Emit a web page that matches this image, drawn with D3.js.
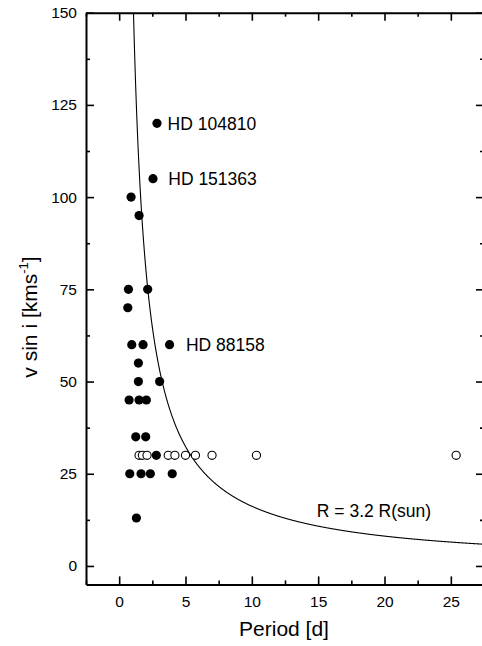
<!DOCTYPE html>
<html><head><meta charset="utf-8">
<script src="https://cdn.jsdelivr.net/npm/d3@7"></script>
<style>
body{margin:0;background:#fff}
svg{display:block}
text{font-family:"Liberation Sans",Arial,Helvetica,sans-serif;fill:#000}
</style>
</head><body>
<svg id="c" width="482" height="646"></svg>
<script>
// ---- data ----
const filledPeriod = [2.85, 2.55, 0.9, 1.5, 0.7, 2.15, 0.65, 0.95, 1.8, 3.8, 1.45, 1.45, 3.05, 0.75, 1.5, 2.05, 1.25, 2.0, 2.8, 0.8, 1.65, 2.35, 4.0, 1.3];
const filledVsini  = [120, 105, 100, 95, 75, 75, 70, 60, 60, 60, 55, 50, 50, 45, 45, 45, 35, 35, 30, 25, 25, 25, 25, 13];
const openPeriod = [1.5, 1.75, 2.1, 3.7, 4.2, 5.0, 5.75, 7.0, 10.35, 25.4];
const openVsini  = [30, 30, 30, 30, 30, 30, 30, 30, 30, 30];
const labelNames  = ["HD 104810", "HD 151363", "HD 88158"];
const labelPeriod = [3.65, 3.7, 5.03];
const labelVsini  = [120, 105, 60];
const curveLabel = "R = 3.2 R(sun)";
const curveLabelPeriod = 14.9;
const curveLabelVsini = 15;
const radiusRsun = 3.2;
const xTicks = [0, 5, 10, 15, 20, 25];
const xMinor = [-2.5, 2.5, 7.5, 12.5, 17.5, 22.5, 27.5];
const yTicks = [0, 25, 50, 75, 100, 125, 150];
const yMinor = [12.5, 37.5, 62.5, 87.5, 112.5, 137.5];
const xDomain = [-2.5, 27.5];
const yDomain = [-5, 150];

// ---- scales ----
const L = 86, R = 484, T = 12.7, B = 584.4;
const x = d3.scaleLinear().domain(xDomain).range([L, R]);
const y = d3.scaleLinear().domain(yDomain).range([B, T]);
const svg = d3.select("#c");

svg.append("defs").append("clipPath").attr("id","clip")
  .append("rect").attr("x", L).attr("y", T).attr("width", R - L).attr("height", B - T);

// curve v sin i = 2*pi*R/P
const kmRsun = 695700, secDay = 86400;
const kCurve = 2 * Math.PI * radiusRsun * kmRsun / secDay;
const ps = d3.range(0.9, 28.01, 0.02);
svg.append("path")
  .attr("clip-path","url(#clip)")
  .attr("d", d3.line().x(p => x(p)).y(p => y(kCurve / p))(ps))
  .attr("fill","none").attr("stroke","#000").attr("stroke-width",1.1);

// axes
function styleAxis(g, w){
  g.select(".domain").attr("stroke-width", 2).attr("stroke","#000");
  g.selectAll(".tick line").attr("stroke-width", 1.6).attr("stroke","#000");
}
const fontTick = 15.5;
const gb = svg.append("g").attr("transform",`translate(0,${B})`)
  .call(d3.axisBottom(x).tickValues(xTicks).tickSize(-8).tickPadding(12).tickSizeOuter(0).tickFormat(d3.format("d")));
styleAxis(gb);
gb.selectAll("text").attr("font-size", fontTick).attr("font-family",null);
gb.attr("font-family",null);
const gbm = svg.append("g").attr("transform",`translate(0,${B})`)
  .call(d3.axisBottom(x).tickValues(xMinor).tickSize(-4).tickSizeOuter(0).tickFormat(""));
styleAxis(gbm); gbm.select(".domain").remove();

const gt = svg.append("g").attr("transform",`translate(0,${T})`)
  .call(d3.axisTop(x).tickValues(xTicks).tickSize(-8).tickSizeOuter(0).tickFormat(""));
styleAxis(gt);
const gtm = svg.append("g").attr("transform",`translate(0,${T})`)
  .call(d3.axisTop(x).tickValues(xMinor).tickSize(-4).tickSizeOuter(0).tickFormat(""));
styleAxis(gtm); gtm.select(".domain").remove();

const gl = svg.append("g").attr("transform",`translate(${L},0)`)
  .call(d3.axisLeft(y).tickValues(yTicks).tickSize(-8).tickPadding(9).tickSizeOuter(0).tickFormat(d3.format("d")));
styleAxis(gl);
gl.selectAll("text").attr("font-size", fontTick);
gl.attr("font-family",null);
const glm = svg.append("g").attr("transform",`translate(${L},0)`)
  .call(d3.axisLeft(y).tickValues(yMinor).tickSize(-4).tickSizeOuter(0).tickFormat(""));
styleAxis(glm); glm.select(".domain").remove();

const gr = svg.append("g").attr("transform",`translate(${R},0)`)
  .call(d3.axisRight(y).tickValues(yTicks).tickSize(-8).tickSizeOuter(0).tickFormat(""));
styleAxis(gr);
const grm = svg.append("g").attr("transform",`translate(${R},0)`)
  .call(d3.axisRight(y).tickValues(yMinor).tickSize(-4).tickSizeOuter(0).tickFormat(""));
styleAxis(grm); grm.select(".domain").remove();

// points
const filled = filledPeriod.map((p,i)=>({p, v: filledVsini[i]}));
const open = openPeriod.map((p,i)=>({p, v: openVsini[i]}));
svg.append("g").selectAll("circle").data(filled).join("circle")
  .attr("cx", d => x(d.p)).attr("cy", d => y(d.v)).attr("r", 4.6).attr("fill","#000");
svg.append("g").selectAll("circle").data(open).join("circle")
  .attr("cx", d => x(d.p)).attr("cy", d => y(d.v)).attr("r", 4.1)
  .attr("fill","#fff").attr("stroke","#000").attr("stroke-width",1.1);

// labels
svg.append("g").selectAll("text").data(labelNames).join("text")
  .attr("x", (d,i) => x(labelPeriod[i])).attr("y", (d,i) => y(labelVsini[i]) + 6.3)
  .attr("font-size", 17.5).text(d => d);
svg.append("text").attr("x", x(curveLabelPeriod)).attr("y", y(curveLabelVsini) + 6.3)
  .attr("font-size", 17.5).text(curveLabel);

// axis titles
svg.append("text").attr("x", (L + 482) / 2 + 0).attr("y", 636).attr("text-anchor","middle")
  .attr("font-size", 21).text("Period [d]");
const yt = svg.append("text").attr("transform", "translate(37,317) rotate(-90)")
  .attr("text-anchor","middle").attr("font-size", 21);
yt.append("tspan").text("v sin i [kms");
yt.append("tspan").attr("font-size", 13).attr("dy", -9).text("-1");
yt.append("tspan").attr("dy", 9).text("]");
</script>
</body></html>
